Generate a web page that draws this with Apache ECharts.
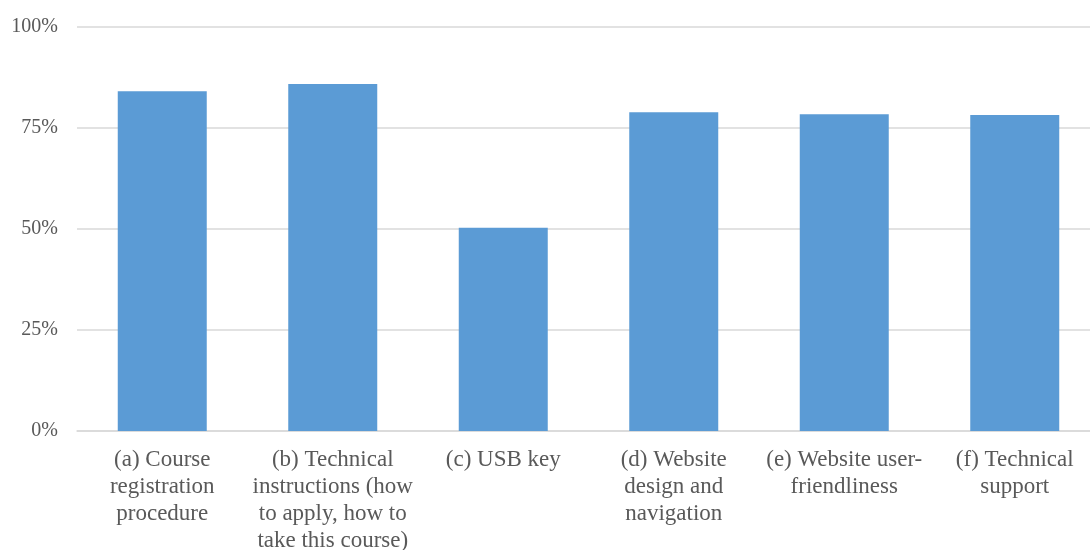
<!DOCTYPE html>
<html>
<head>
<meta charset="utf-8">
<script src="https://cdn.jsdelivr.net/npm/echarts@6/dist/echarts.min.js"></script>
<style>
  html, body { margin: 0; padding: 0; background: #ffffff; }
  #chart { width: 1090px; height: 550px; }
</style>
</head>
<body>
<div id="chart"></div>
<script>
// Survey items (wrapped as they appear under each bar)
const categories = [
  '(a) Course\nregistration\nprocedure',
  '(b) Technical\ninstructions (how\nto apply, how to\ntake this course)',
  '(c) USB key',
  '(d) Website\ndesign and\nnavigation',
  '(e) Website user-\nfriendliness',
  '(f) Technical\nsupport'
];

// Share of respondents, in percent
const values = [84.1, 85.9, 50.3, 78.9, 78.4, 78.2];

// Value-axis range and step
const yMin = 0;
const yMax = 100;
const yStep = 25;

const chart = echarts.init(document.getElementById('chart'), null, { renderer: 'canvas' });

const fontFamily = '"Liberation Serif", "DejaVu Serif", serif';
const textColor = '#595959';
const gridColor = '#d9d9d9';

chart.setOption({
  animation: false,
  backgroundColor: '#ffffff',
  grid: {
    left: 77, top: 27, width: 1023, height: 404,
    containLabel: false,
    outerBoundsMode: 'none'
  },
  xAxis: {
    type: 'category',
    data: categories,
    axisLine: { show: true, lineStyle: { color: gridColor, width: 1.5 } },
    axisTick: { show: false },
    axisLabel: {
      color: textColor,
      fontFamily: fontFamily,
      fontSize: 23,
      lineHeight: 27,
      margin: 15,
      interval: 0,
      align: 'center'
    }
  },
  yAxis: {
    type: 'value',
    min: yMin,
    max: yMax,
    interval: yStep,
    axisLine: { show: false },
    axisTick: { show: false },
    splitLine: { lineStyle: { color: gridColor, width: 1.5 } },
    axisLabel: {
      color: textColor,
      fontFamily: fontFamily,
      fontSize: 20,
      margin: 19,
      formatter: v => v + '%'
    }
  },
  series: [{
    type: 'bar',
    data: values,
    barWidth: 89,
    itemStyle: { color: '#5b9bd5' }
  }]
});
</script>
</body>
</html>
